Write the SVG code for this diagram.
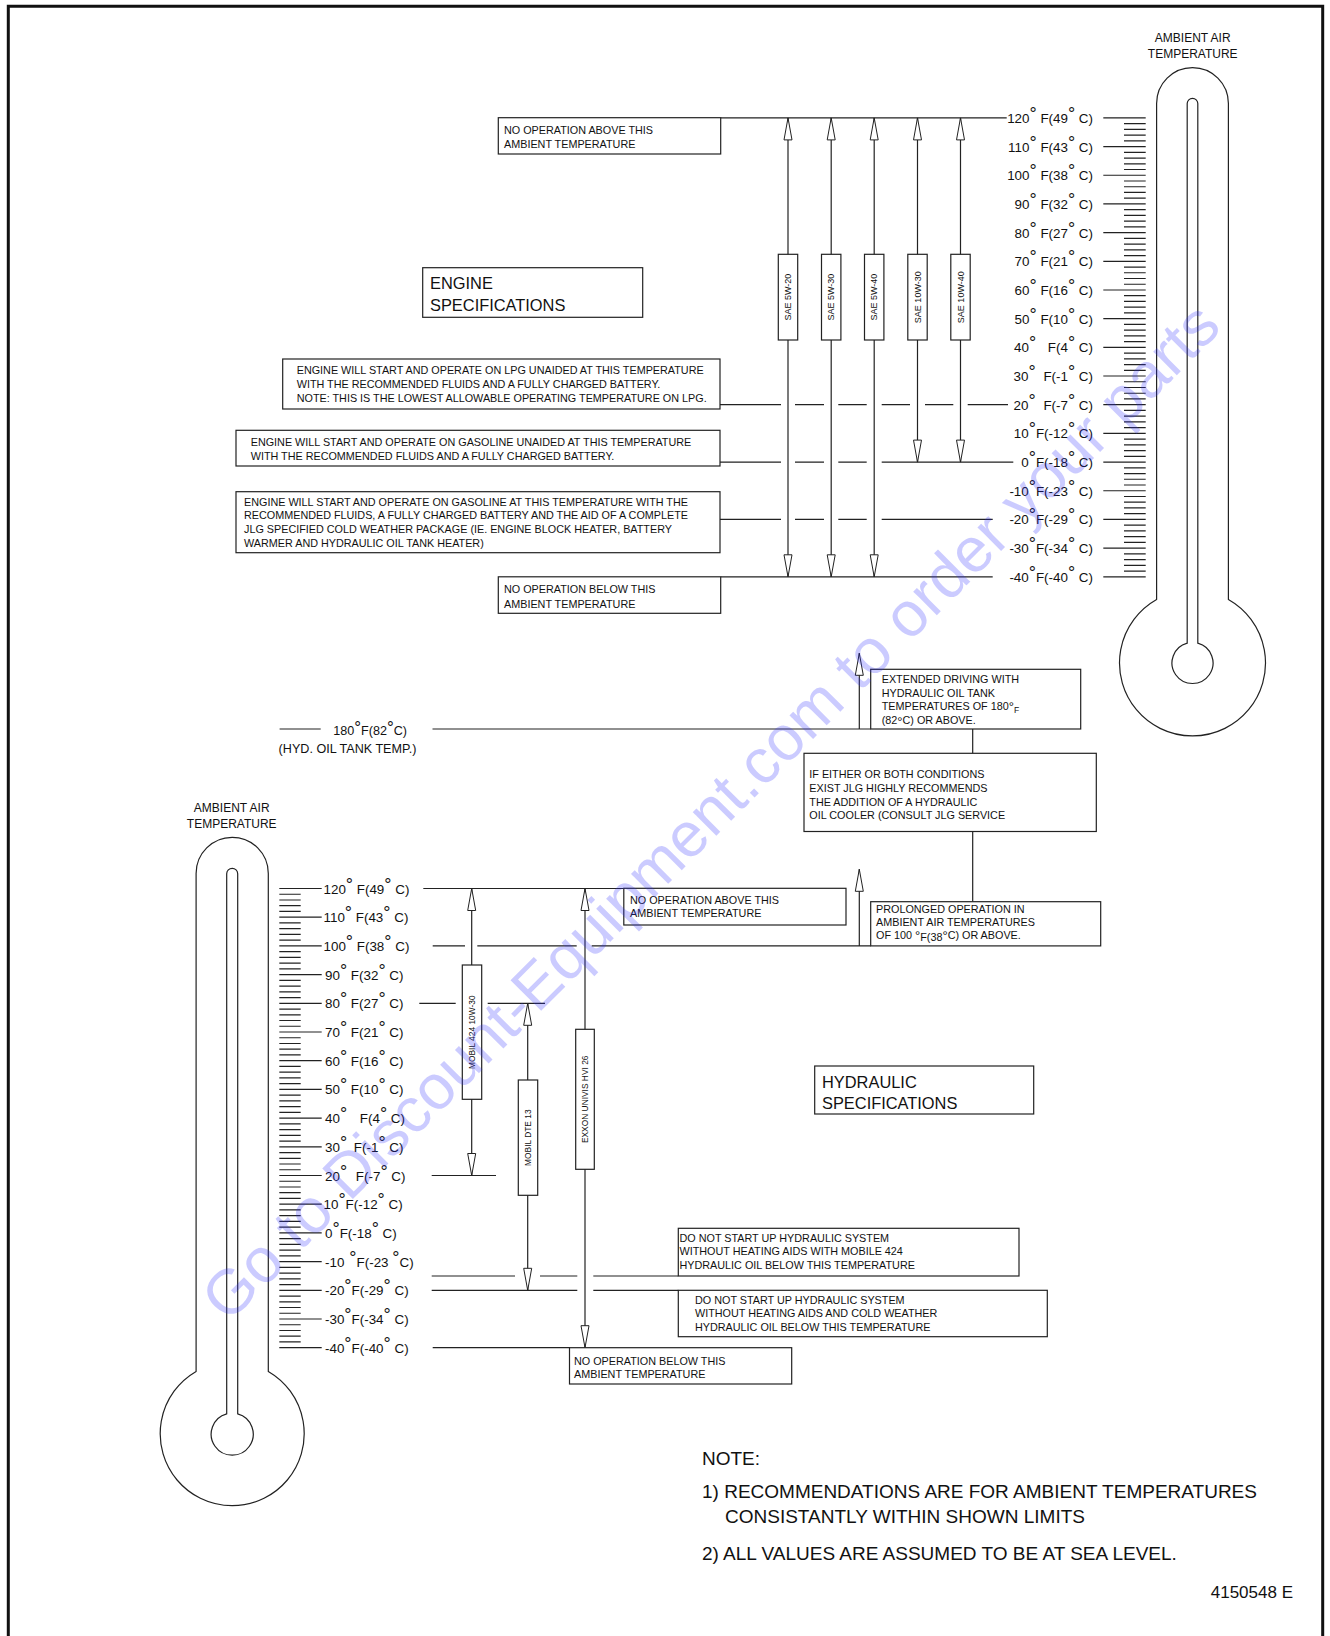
<svg xmlns="http://www.w3.org/2000/svg" width="1330" height="1636" viewBox="0 0 1330 1636">
<style>
text{font-family:"Liberation Sans",Arial,Helvetica,sans-serif;fill:#111}
.ln{stroke:#222;stroke-width:1.2;fill:none}
.bx{fill:#fff;stroke:#222;stroke-width:1.2}
.th{fill:#fff;stroke:#222;stroke-width:1.2}
.s{font-size:10.8px}
.lab{font-size:13.4px}
.dg{font-size:18px}
.sd{font-size:13px}
.big{font-size:16.4px}
.amb{font-size:12px;text-anchor:middle}
.oil{font-size:9px;text-anchor:middle}
.hoil{font-size:8.4px;text-anchor:middle}
.arr{marker-start:url(#ah);marker-end:url(#ah)}
.up{marker-end:url(#ah)}
.note{font-size:19px}
.wm{font-size:63px;fill:#3030ff;fill-opacity:0.25}
</style>
<defs>
<marker id="ah" viewBox="-1 -1 25 10" refX="22" refY="4" markerWidth="25" markerHeight="10" markerUnits="userSpaceOnUse" orient="auto-start-reverse"><path d="M0,0 L22,4 L0,8 Z" fill="#fff" stroke="#222" stroke-width="1"/></marker>
<path id="decR" class="ln" d="M1103.3,0H1145.7M1124,5.736H1145.7M1124,11.472H1145.7M1124,17.208H1145.7M1124,22.944H1145.7"/>
<path id="decL" class="ln" d="M279.3,0H321.7M279.3,5.74H300.7M279.3,11.48H300.7M279.3,17.22H300.7M279.3,22.96H300.7"/>
</defs>
<rect x="0" y="0" width="1330" height="1636" fill="#fff"/>
<path d="M8.3,1642V6.3H1322.7V1642" fill="none" stroke="#111" stroke-width="3"/>

<!-- connectors -->
<g id="connectors" class="ln">
<path d="M720.7,117.9H1006.7"/>
<path d="M720,404.7H781M795,404.7H824M838.3,404.7H866.7M881.7,404.7H910M925,404.7H953.3M967.7,404.7H1008"/>
<path d="M720,462.1H781M795,462.1H824M838.3,462.1H866.7M881.7,462.1H1013.3"/>
<path d="M720,519.4H781M795,519.4H824M838.3,519.4H866.7M881.7,519.4H992.7"/>
<path d="M720.7,576.8H992.7"/>
<line class="arr" x1="788" y1="117.9" x2="788" y2="576.8"/>
<line class="arr" x1="831.2" y1="117.9" x2="831.2" y2="576.8"/>
<line class="arr" x1="874.2" y1="117.9" x2="874.2" y2="576.8"/>
<line class="arr" x1="917.5" y1="117.9" x2="917.5" y2="462.1"/>
<line class="arr" x1="960.5" y1="117.9" x2="960.5" y2="462.1"/>
<path d="M279.6,729H320.7M432.5,729H870.7"/>
<line class="up" x1="859.3" y1="729" x2="859.3" y2="653.3"/>
<path d="M972.7,729V753.3M972.7,831.5V901.7"/>
<line class="up" x1="859.3" y1="945.9" x2="859.3" y2="869.3"/>
<path d="M432.7,945.9H465M477.3,945.9H576.7M591.7,945.9H870.7"/>
<path d="M423.3,888.5H623.8"/>
<path d="M419.3,1003.3H455.7M487.7,1003.3H545"/>
<path d="M431.7,1175.5H496"/>
<path d="M431.7,1276H515M540,1276H577.3M593.3,1276H678.3"/>
<path d="M431.7,1290.3H577.3M593.3,1290.3H678.3"/>
<path d="M432.7,1347.7H570"/>
<line class="arr" x1="471.7" y1="888.5" x2="471.7" y2="1175.5"/>
<line class="arr" x1="527.7" y1="1003.3" x2="527.7" y2="1290.3"/>
<line class="arr" x1="585" y1="888.5" x2="585" y2="1347.7"/>
</g>

<!-- top thermometer -->
<g id="thermo-top">
<text class="amb" x="1192.7" y="41.7">AMBIENT AIR</text>
<text class="amb" x="1192.7" y="58">TEMPERATURE</text>
<path class="th" d="M1156.6,599.4V103.5A35.9,35.9 0 0 1 1228.4,103.5V599.4A73,73 0 1 1 1156.6,599.4Z"/>
<path class="th" d="M1187.2,643.2V103.6A5.3,5.3 0 0 1 1197.8,103.6V643.2A20.5,20.5 0 1 1 1187.2,643.2Z"/>
<use href="#decR" y="117.9"/><use href="#decR" y="146.58"/><use href="#decR" y="175.26"/><use href="#decR" y="203.94"/>
<use href="#decR" y="232.62"/><use href="#decR" y="261.3"/><use href="#decR" y="289.98"/><use href="#decR" y="318.66"/>
<use href="#decR" y="347.34"/><use href="#decR" y="376.02"/><use href="#decR" y="404.7"/><use href="#decR" y="433.38"/>
<use href="#decR" y="462.06"/><use href="#decR" y="490.74"/><use href="#decR" y="519.42"/><use href="#decR" y="548.1"/>
<path class="ln" d="M1103.3,576.78H1145.7"/>
<g class="lab" text-anchor="end">
<text x="1093" y="122.9">120<tspan class="dg" dy="-3">°</tspan><tspan dy="3"> F(49</tspan><tspan class="dg" dy="-3">°</tspan><tspan dy="3"> C)</tspan></text>
<text x="1093" y="151.6">110<tspan class="dg" dy="-3">°</tspan><tspan dy="3"> F(43</tspan><tspan class="dg" dy="-3">°</tspan><tspan dy="3"> C)</tspan></text>
<text x="1093" y="180.3">100<tspan class="dg" dy="-3">°</tspan><tspan dy="3"> F(38</tspan><tspan class="dg" dy="-3">°</tspan><tspan dy="3"> C)</tspan></text>
<text x="1093" y="208.9">90<tspan class="dg" dy="-3">°</tspan><tspan dy="3"> F(32</tspan><tspan class="dg" dy="-3">°</tspan><tspan dy="3"> C)</tspan></text>
<text x="1093" y="237.6">80<tspan class="dg" dy="-3">°</tspan><tspan dy="3"> F(27</tspan><tspan class="dg" dy="-3">°</tspan><tspan dy="3"> C)</tspan></text>
<text x="1093" y="266.3">70<tspan class="dg" dy="-3">°</tspan><tspan dy="3"> F(21</tspan><tspan class="dg" dy="-3">°</tspan><tspan dy="3"> C)</tspan></text>
<text x="1093" y="295">60<tspan class="dg" dy="-3">°</tspan><tspan dy="3"> F(16</tspan><tspan class="dg" dy="-3">°</tspan><tspan dy="3"> C)</tspan></text>
<text x="1093" y="323.7">50<tspan class="dg" dy="-3">°</tspan><tspan dy="3"> F(10</tspan><tspan class="dg" dy="-3">°</tspan><tspan dy="3"> C)</tspan></text>
<text x="1093" y="352.3">40<tspan class="dg" dy="-3">°</tspan><tspan dy="3" dx="8"> F(4</tspan><tspan class="dg" dy="-3">°</tspan><tspan dy="3"> C)</tspan></text>
<text x="1093" y="381">30<tspan class="dg" dy="-3">°</tspan><tspan dy="3" dx="4"> F(-1</tspan><tspan class="dg" dy="-3">°</tspan><tspan dy="3"> C)</tspan></text>
<text x="1093" y="409.7">20<tspan class="dg" dy="-3">°</tspan><tspan dy="3" dx="4"> F(-7</tspan><tspan class="dg" dy="-3">°</tspan><tspan dy="3"> C)</tspan></text>
<text x="1093" y="438.4">10<tspan class="dg" dy="-3">°</tspan><tspan dy="3">F(-12</tspan><tspan class="dg" dy="-3">°</tspan><tspan dy="3"> C)</tspan></text>
<text x="1093" y="467.1">0<tspan class="dg" dy="-3">°</tspan><tspan dy="3">F(-18</tspan><tspan class="dg" dy="-3">°</tspan><tspan dy="3"> C)</tspan></text>
<text x="1093" y="495.7">-10<tspan class="dg" dy="-3">°</tspan><tspan dy="3">F(-23</tspan><tspan class="dg" dy="-3">°</tspan><tspan dy="3"> C)</tspan></text>
<text x="1093" y="524.4">-20<tspan class="dg" dy="-3">°</tspan><tspan dy="3">F(-29</tspan><tspan class="dg" dy="-3">°</tspan><tspan dy="3"> C)</tspan></text>
<text x="1093" y="553.1">-30<tspan class="dg" dy="-3">°</tspan><tspan dy="3">F(-34</tspan><tspan class="dg" dy="-3">°</tspan><tspan dy="3"> C)</tspan></text>
<text x="1093" y="581.8">-40<tspan class="dg" dy="-3">°</tspan><tspan dy="3">F(-40</tspan><tspan class="dg" dy="-3">°</tspan><tspan dy="3"> C)</tspan></text>
</g>
</g>

<!-- engine nodes -->
<g id="eng-no-op-above"><rect class="bx" x="498.3" y="117.7" width="222.4" height="36.3"/>
<text class="s" x="504" y="134.3">NO OPERATION ABOVE THIS</text><text class="s" x="504" y="147.7">AMBIENT TEMPERATURE</text></g>
<g id="engine-spec"><rect class="bx" x="422.7" y="267.7" width="220" height="49.6"/>
<text class="big" x="430" y="289.3">ENGINE</text><text class="big" x="430" y="311">SPECIFICATIONS</text></g>
<g id="eng-lpg"><rect class="bx" x="282.7" y="359" width="437.3" height="50"/>
<text class="s" x="296.7" y="374.3">ENGINE WILL START AND OPERATE ON LPG UNAIDED AT THIS TEMPERATURE</text>
<text class="s" x="296.7" y="388.3">WITH THE RECOMMENDED FLUIDS AND A FULLY CHARGED BATTERY.</text>
<text class="s" x="296.7" y="402.3">NOTE: THIS IS THE LOWEST ALLOWABLE OPERATING TEMPERATURE ON LPG.</text></g>
<g id="eng-gas"><rect class="bx" x="236" y="430.3" width="484" height="35.7"/>
<text class="s" x="250.7" y="446">ENGINE WILL START AND OPERATE ON GASOLINE UNAIDED AT THIS TEMPERATURE</text>
<text class="s" x="250.7" y="460">WITH THE RECOMMENDED FLUIDS AND A FULLY CHARGED BATTERY.</text></g>
<g id="eng-gas-aid"><rect class="bx" x="236" y="491.7" width="484" height="61"/>
<text class="s" x="244" y="505.7">ENGINE WILL START AND OPERATE ON GASOLINE AT THIS TEMPERATURE WITH THE</text>
<text class="s" x="244" y="519.3">RECOMMENDED FLUIDS, A FULLY CHARGED BATTERY AND THE AID OF A COMPLETE</text>
<text class="s" x="244" y="533.3">JLG SPECIFIED COLD WEATHER PACKAGE (IE. ENGINE BLOCK HEATER, BATTERY</text>
<text class="s" x="244" y="546.7">WARMER AND HYDRAULIC OIL TANK HEATER)</text></g>
<g id="eng-no-op-below"><rect class="bx" x="498.3" y="576.8" width="222.4" height="36.5"/>
<text class="s" x="504" y="593.3">NO OPERATION BELOW THIS</text><text class="s" x="504" y="607.7">AMBIENT TEMPERATURE</text></g>

<g id="oil-5w20"><rect class="bx" x="778.3" y="254.3" width="19.4" height="85.7"/><text class="oil" transform="translate(788,297.2) rotate(-90)" y="3.2">SAE 5W-20</text></g>
<g id="oil-5w30"><rect class="bx" x="821.5" y="254.3" width="19.4" height="85.7"/><text class="oil" transform="translate(831.2,297.2) rotate(-90)" y="3.2">SAE 5W-30</text></g>
<g id="oil-5w40"><rect class="bx" x="864.5" y="254.3" width="19.4" height="85.7"/><text class="oil" transform="translate(874.2,297.2) rotate(-90)" y="3.2">SAE 5W-40</text></g>
<g id="oil-10w30"><rect class="bx" x="907.8" y="254.3" width="19.4" height="85.7"/><text class="oil" transform="translate(917.5,297.2) rotate(-90)" y="3.2">SAE 10W-30</text></g>
<g id="oil-10w40"><rect class="bx" x="950.8" y="254.3" width="19.4" height="85.7"/><text class="oil" transform="translate(960.5,297.2) rotate(-90)" y="3.2">SAE 10W-40</text></g>

<!-- hydraulic oil tank temp -->
<g id="hyd-tank-temp">
<text x="333.2" y="734.6" font-size="12.6">180<tspan font-size="17" dy="-2">°</tspan><tspan dy="2">F(82</tspan><tspan font-size="17" dy="-2">°</tspan><tspan dy="2">C)</tspan></text>
<text x="278.6" y="753" font-size="12.6">(HYD. OIL TANK TEMP.)</text>
</g>
<g id="extended-driving"><rect class="bx" x="870.7" y="669.3" width="210" height="59.7"/>
<text class="s" x="881.7" y="683.3">EXTENDED DRIVING WITH</text>
<text class="s" x="881.7" y="696.7">HYDRAULIC OIL TANK</text>
<text class="s" x="881.7" y="710">TEMPERATURES OF 180<tspan class="sd" dy="1">°</tspan><tspan font-size="8.5" dy="2">F</tspan></text>
<text class="s" x="881.7" y="724">(82<tspan class="sd" dy="2">°</tspan><tspan dy="-2">C) OR ABOVE.</tspan></text></g>
<g id="oil-cooler"><rect class="bx" x="804" y="753.3" width="292.3" height="78.2"/>
<text class="s" x="809.3" y="778.3">IF EITHER OR BOTH CONDITIONS</text>
<text class="s" x="809.3" y="791.7">EXIST JLG HIGHLY RECOMMENDS</text>
<text class="s" x="809.3" y="805.7">THE ADDITION OF A HYDRAULIC</text>
<text class="s" x="809.3" y="819">OIL COOLER (CONSULT JLG SERVICE</text></g>
<g id="prolonged-op"><rect class="bx" x="870.7" y="901.7" width="230" height="44.2"/>
<text class="s" x="876" y="912.7">PROLONGED OPERATION IN</text>
<text class="s" x="876" y="926">AMBIENT AIR TEMPERATURES</text>
<text class="s" x="876" y="939.3">OF 100 <tspan class="sd" dy="1">°</tspan><tspan dy="1">F(38</tspan><tspan class="sd" dy="-1">°</tspan><tspan dy="-1">C) OR ABOVE.</tspan></text></g>

<!-- bottom thermometer -->
<g id="thermo-bottom">
<text class="amb" x="231.7" y="812.3">AMBIENT AIR</text>
<text class="amb" x="231.7" y="828.3">TEMPERATURE</text>
<path class="th" d="M196.1,1371.4V873.4A36.1,36.1 0 0 1 268.3,873.4V1371.4A72,72 0 1 1 196.1,1371.4Z"/>
<path class="th" d="M226.7,1413.9V873.8A5.5,5.5 0 0 1 237.7,873.8V1413.9A21,21 0 1 1 226.7,1413.9Z"/>
<use href="#decL" y="888.5"/><use href="#decL" y="917.2"/><use href="#decL" y="945.9"/><use href="#decL" y="974.6"/>
<use href="#decL" y="1003.3"/><use href="#decL" y="1032"/><use href="#decL" y="1060.7"/><use href="#decL" y="1089.4"/>
<use href="#decL" y="1118.1"/><use href="#decL" y="1146.8"/><use href="#decL" y="1175.5"/><use href="#decL" y="1204.2"/>
<use href="#decL" y="1232.9"/><use href="#decL" y="1261.6"/><use href="#decL" y="1290.3"/><use href="#decL" y="1319"/>
<path class="ln" d="M279.3,1347.7H321.7"/>
<g class="lab">
<text x="323.5" y="893.5">120<tspan class="dg" dy="-3">°</tspan><tspan dy="3"> F(49</tspan><tspan class="dg" dy="-3">°</tspan><tspan dy="3"> C)</tspan></text>
<text x="323.5" y="922.2">110<tspan class="dg" dy="-3">°</tspan><tspan dy="3"> F(43</tspan><tspan class="dg" dy="-3">°</tspan><tspan dy="3"> C)</tspan></text>
<text x="323.5" y="950.9">100<tspan class="dg" dy="-3">°</tspan><tspan dy="3"> F(38</tspan><tspan class="dg" dy="-3">°</tspan><tspan dy="3"> C)</tspan></text>
<text x="325" y="979.6">90<tspan class="dg" dy="-3">°</tspan><tspan dy="3"> F(32</tspan><tspan class="dg" dy="-3">°</tspan><tspan dy="3"> C)</tspan></text>
<text x="325" y="1008.3">80<tspan class="dg" dy="-3">°</tspan><tspan dy="3"> F(27</tspan><tspan class="dg" dy="-3">°</tspan><tspan dy="3"> C)</tspan></text>
<text x="325" y="1037">70<tspan class="dg" dy="-3">°</tspan><tspan dy="3"> F(21</tspan><tspan class="dg" dy="-3">°</tspan><tspan dy="3"> C)</tspan></text>
<text x="325" y="1065.7">60<tspan class="dg" dy="-3">°</tspan><tspan dy="3"> F(16</tspan><tspan class="dg" dy="-3">°</tspan><tspan dy="3"> C)</tspan></text>
<text x="325" y="1094.4">50<tspan class="dg" dy="-3">°</tspan><tspan dy="3"> F(10</tspan><tspan class="dg" dy="-3">°</tspan><tspan dy="3"> C)</tspan></text>
<text x="325" y="1123.1">40<tspan class="dg" dy="-3">°</tspan><tspan dy="3" dx="9"> F(4</tspan><tspan class="dg" dy="-3">°</tspan><tspan dy="3"> C)</tspan></text>
<text x="325" y="1151.8">30<tspan class="dg" dy="-3">°</tspan><tspan dy="3" dx="3"> F(-1</tspan><tspan class="dg" dy="-3">°</tspan><tspan dy="3"> C)</tspan></text>
<text x="325" y="1180.5">20<tspan class="dg" dy="-3">°</tspan><tspan dy="3" dx="5"> F(-7</tspan><tspan class="dg" dy="-3">°</tspan><tspan dy="3"> C)</tspan></text>
<text x="323.5" y="1209.2">10<tspan class="dg" dy="-3">°</tspan><tspan dy="3">F(-12</tspan><tspan class="dg" dy="-3">°</tspan><tspan dy="3"> C)</tspan></text>
<text x="325" y="1237.9">0<tspan class="dg" dy="-3">°</tspan><tspan dy="3">F(-18</tspan><tspan class="dg" dy="-3">°</tspan><tspan dy="3"> C)</tspan></text>
<text x="325" y="1266.6">-10<tspan class="dg" dy="-3"> °</tspan><tspan dy="3">F(-23 </tspan><tspan class="dg" dy="-3">°</tspan><tspan dy="3">C)</tspan></text>
<text x="325" y="1295.3">-20<tspan class="dg" dy="-3">°</tspan><tspan dy="3">F(-29</tspan><tspan class="dg" dy="-3">°</tspan><tspan dy="3"> C)</tspan></text>
<text x="325" y="1324">-30<tspan class="dg" dy="-3">°</tspan><tspan dy="3">F(-34</tspan><tspan class="dg" dy="-3">°</tspan><tspan dy="3"> C)</tspan></text>
<text x="325" y="1352.7">-40<tspan class="dg" dy="-3">°</tspan><tspan dy="3">F(-40</tspan><tspan class="dg" dy="-3">°</tspan><tspan dy="3"> C)</tspan></text>
</g>
</g>

<!-- hydraulic nodes -->
<g id="hyd-no-op-above"><rect class="bx" x="623.8" y="888.3" width="222.2" height="36.7"/>
<text class="s" x="630" y="903.5">NO OPERATION ABOVE THIS</text><text class="s" x="630" y="917">AMBIENT TEMPERATURE</text></g>
<g id="hyd-spec"><rect class="bx" x="814.7" y="1066" width="219" height="48"/>
<text class="big" x="822" y="1087.6">HYDRAULIC</text><text class="big" x="822" y="1109.3">SPECIFICATIONS</text></g>
<g id="hyd-mobil424"><rect class="bx" x="462.3" y="965" width="19.4" height="134.3"/><text class="hoil" transform="translate(472,1032.2) rotate(-90)" y="3">MOBIL 424 10W-30</text></g>
<g id="hyd-dte13"><rect class="bx" x="518.3" y="1080" width="19.4" height="115.3"/><text class="hoil" transform="translate(528,1137.7) rotate(-90)" y="3">MOBIL DTE 13</text></g>
<g id="hyd-exxon"><rect class="bx" x="575.7" y="1029.3" width="18.6" height="140"/><text class="hoil" transform="translate(585,1099.3) rotate(-90)" y="3">EXXON UNIVIS HVI 26</text></g>
<g id="hyd-no-start-424"><rect class="bx" x="678.3" y="1228.3" width="340.7" height="47.7"/>
<text class="s" x="679.5" y="1241.7">DO NOT START UP HYDRAULIC SYSTEM</text>
<text class="s" x="679.5" y="1255">WITHOUT HEATING AIDS WITH MOBILE 424</text>
<text class="s" x="679.5" y="1269">HYDRAULIC OIL BELOW THIS TEMPERATURE</text></g>
<g id="hyd-no-start-cold"><rect class="bx" x="678.3" y="1290.3" width="369" height="46.4"/>
<text class="s" x="695" y="1304">DO NOT START UP HYDRAULIC SYSTEM</text>
<text class="s" x="695" y="1317.3">WITHOUT HEATING AIDS AND COLD WEATHER</text>
<text class="s" x="695" y="1330.7">HYDRAULIC OIL BELOW THIS TEMPERATURE</text></g>
<g id="hyd-no-op-below"><rect class="bx" x="569.5" y="1347.7" width="222.2" height="36.3"/>
<text class="s" x="574" y="1364.5">NO OPERATION BELOW THIS</text><text class="s" x="574" y="1378">AMBIENT TEMPERATURE</text></g>

<!-- notes -->
<g id="notes">
<text class="note" x="702" y="1464.5">NOTE:</text>
<text class="note" x="702" y="1498">1) RECOMMENDATIONS ARE FOR AMBIENT TEMPERATURES</text>
<text class="note" x="725" y="1523">CONSISTANTLY WITHIN SHOWN LIMITS</text>
<text class="note" x="702" y="1559.5">2) ALL VALUES ARE ASSUMED TO BE AT SEA LEVEL.</text>
<text x="1293" y="1598" font-size="17" text-anchor="end">4150548 E</text>
</g>

<text class="wm" transform="translate(228,1324) rotate(-45)">Go to Discount-Equipment.com to order your parts</text>
</svg>
